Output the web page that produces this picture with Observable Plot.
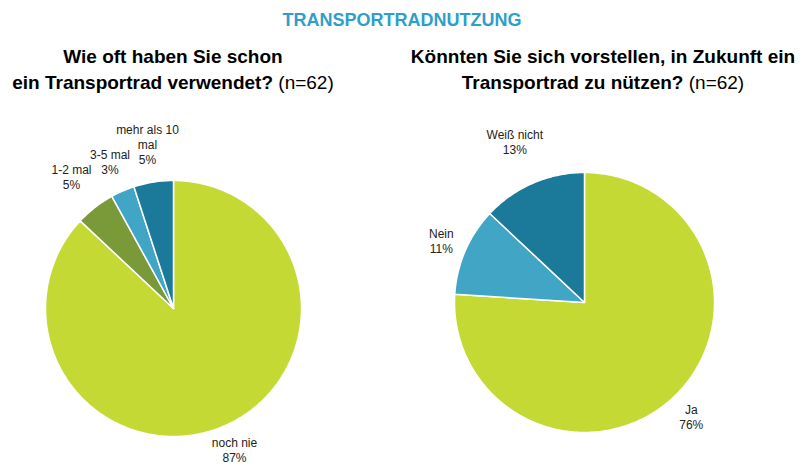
<!DOCTYPE html>
<html><head><meta charset="utf-8">
<script src="https://cdn.jsdelivr.net/npm/d3@7"></script>
<script src="https://cdn.jsdelivr.net/npm/@observablehq/plot@0.6"></script>
<style>
body{margin:0;background:#fff;font-family:"Liberation Sans",Arial,sans-serif;}
#wrap{position:relative;width:804px;height:475px;overflow:hidden}
.t{position:absolute;text-align:center;color:#000}
svg{overflow:visible}
</style></head><body>
<div id="wrap">
<div id="p1" style="position:absolute;left:0;top:0"></div>
<div id="p2" style="position:absolute;left:402px;top:0"></div>
<div class="t" style="left:0;width:804px;top:10px;font-size:18px;font-weight:bold;color:#2e9fc9">TRANSPORTRADNUTZUNG</div>
<div class="t" style="left:0;width:346px;top:44px;font-size:19px;line-height:26px"><b>Wie oft haben Sie schon<br>ein Transportrad verwendet?</b> (n=62)</div>
<div class="t" style="left:402px;width:402px;top:44px;font-size:19px;line-height:26px"><b>Könnten Sie sich vorstellen, in Zukunft ein<br>Transportrad zu nützen?</b> (n=62)</div>
</div>
<script>
const cats1 = ["noch nie","1-2 mal","3-5 mal","mehr als 10 mal"];
const vals1 = [87,5,3,5];
const labels1 = ["noch nie","1-2 mal","3-5 mal","mehr als 10\nmal"];
const colors1 = ["#c5d935","#7a9a3a","#41a6c6","#1b7a99"];
const cats2 = ["Ja","Nein","Weiß nicht"];
const vals2 = [76,11,13];
const colors2 = ["#c5d935","#41a6c6","#1b7a99"];

function pie(el, cats, vals, labels, colors, r, w, cy, lr){
  const h = 475;
  const arcs = d3.pie().sort(null).value(d=>d)(vals);
  const pts = [];
  arcs.forEach((a,i)=>{
    const n = Math.max(4, Math.ceil((a.endAngle-a.startAngle)*60));
    pts.push({c:cats[i],x:0,y:0});
    for(let k=0;k<=n;k++){const t=a.startAngle+(a.endAngle-a.startAngle)*k/n;pts.push({c:cats[i],x:Math.sin(t),y:Math.cos(t)});}
    pts.push({c:cats[i],x:0,y:0});
  });
  const lab = arcs.map((a,i)=>{const m=(a.startAngle+a.endAngle)/2;return {t:labels[i]+"\n"+vals[i]+"%",x:Math.sin(m)*lr[i],y:Math.cos(m)*lr[i]};});
  const p = Plot.plot({width:w,height:h,margin:0,
    x:{domain:[-w/2/r,w/2/r],axis:null},y:{domain:[-(h-cy)/r,cy/r],axis:null},
    color:{domain:cats,range:colors},
    marks:[
      Plot.line(pts,{x:"x",y:"y",z:"c",fill:"c",stroke:"white",strokeWidth:1.5,curve:"linear"}),
      Plot.text(lab,{x:"x",y:"y",text:"t",fontSize:12,fill:"#222",lineHeight:1.25})
    ]});
  p.style.fontFamily="Liberation Sans, Arial, sans-serif";
  document.getElementById(el).append(p);
}
pie("p1",cats1,vals1,labels1,colors1,128,346,308,[1.2,1.3,1.25,1.3]);
pie("p2",cats2,vals2,cats2,colors2,130,364,302,[1.2,1.2,1.35]);
</script></body></html>
